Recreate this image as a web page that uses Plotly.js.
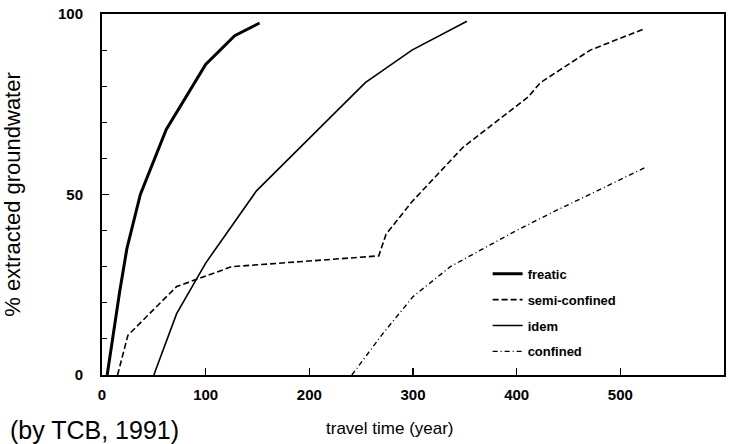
<!DOCTYPE html>
<html>
<head>
<meta charset="utf-8">
<script src="https://cdn.plot.ly/plotly-3.0.1.min.js"></script>
<style>html,body{margin:0;padding:0;background:#fff;}#chart{width:735px;height:444px;}</style>
</head>
<body>
<div id="chart"></div>
<script>
// travel time (year) vs % extracted groundwater
const freaticX = [5, 17, 24, 37, 62, 100, 128, 152];
const freaticY = [0, 23, 35, 50, 68, 86, 94, 97.5];

const semiX = [15, 25, 72, 125, 220, 267, 274, 299, 348, 411, 423, 471, 524];
const semiY = [0, 11, 24.5, 30, 32, 33, 39, 48, 63, 77, 81, 90, 96];

const idemX = [50, 72, 100, 149, 254, 299, 352];
const idemY = [0, 17, 31, 51, 81, 90, 98];

const confX = [241, 271, 300, 336, 397, 432, 525];
const confY = [0, 11.5, 21.7, 30, 39.6, 44.7, 57.6];

const names = ["freatic", "semi-confined", "idem", "confined"];
const xTickStep = 100;
const yTickStep = 50;
const yMinorStep = 10;

const font = "Liberation Sans, Arial, Helvetica, sans-serif";

const traces = [
  {x: freaticX, y: freaticY, name: names[0], legendgroup: "a", mode: "lines", line: {color: "#000", width: 3}},
  {x: semiX, y: semiY, name: names[1], legendgroup: "b", mode: "lines", line: {color: "#000", width: 1.6, dash: "6px,3px"}},
  {x: idemX, y: idemY, name: names[2], legendgroup: "c", mode: "lines", line: {color: "#000", width: 1.6}},
  {x: confX, y: confY, name: names[3], legendgroup: "d", mode: "lines", line: {color: "#000", width: 1.4, dash: "5px,3px,1px,3px"}}
];

const layout = {
  width: 735, height: 444,
  margin: {l: 102, r: 11, t: 14, b: 69},
  paper_bgcolor: "#fff", plot_bgcolor: "#fff",
  font: {family: font, color: "#000"},
  showlegend: true,
  legend: {
    x: 0.62, y: 0.322, xanchor: "left", yanchor: "top",
    bgcolor: "rgba(0,0,0,0)", borderwidth: 0,
    font: {size: 13, family: font, weight: "bold"},
    tracegroupgap: 6
  },
  xaxis: {
    range: [0, 600], tick0: 0, dtick: xTickStep,
    ticks: "inside", ticklen: 7, tickwidth: 1.5, tickcolor: "#000",
    showline: true, linecolor: "#000", linewidth: 2, mirror: true,
    showgrid: false, zeroline: false,
    tickfont: {size: 15, family: font, weight: "bold"},
    ticklabelstandoff: 5
  },
  yaxis: {
    range: [0, 100], tick0: 0, dtick: yTickStep,
    ticks: "inside", ticklen: 7, tickwidth: 1.5, tickcolor: "#000",
    minor: {dtick: yMinorStep, ticks: "inside", ticklen: 5, tickcolor: "#000", tickwidth: 1.2},
    showline: true, linecolor: "#000", linewidth: 2, mirror: true,
    showgrid: false, zeroline: false,
    tickfont: {size: 15, family: font, weight: "bold"},
    ticklabelstandoff: 14,
    title: {text: "% extracted groundwater", font: {size: 22, family: font}, standoff: 38}
  },
  annotations: [
    {text: "travel time (year)", xref: "paper", yref: "paper", x: 0.463, y: -0.147, xanchor: "center", yanchor: "middle", showarrow: false, font: {size: 17, family: font}},
    {text: "(by TCB, 1991)", xref: "paper", yref: "paper", x: -0.151, y: -0.152, xanchor: "left", yanchor: "middle", showarrow: false, font: {size: 25, family: font}}
  ]
};

Plotly.newPlot("chart", traces, layout, {displayModeBar: false, staticPlot: true});
</script>
</body>
</html>
